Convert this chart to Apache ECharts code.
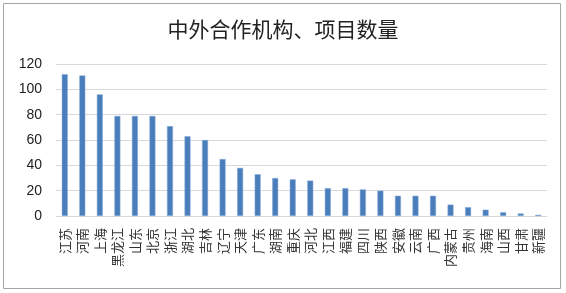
<!DOCTYPE html>
<html>
<head>
<meta charset="utf-8">
<script src="https://cdn.jsdelivr.net/npm/echarts@6/dist/echarts.min.js"></script>
<style>
html,body{margin:0;padding:0;background:#fff;}
#main{width:566px;height:293px;}
</style>
</head>
<body>
<div id="main"></div>
<script>
var provinces = ['江苏','河南','上海','黑龙江','山东','北京','浙江','湖北','吉林','辽宁','天津','广东','湖南','重庆',
    '河北','江西','福建','四川','陕西','安徽','云南','广西','内蒙古','贵州','海南','山西','甘肃','新疆'];
var counts = [112,111,96,79,79,79,71,63,60,45,38,33,30,29,28,22,22,21,20,16,16,16,9,7,5,3,2,1];
var yTicks = [0,20,40,60,80,100,120];

var chart = echarts.init(document.getElementById('main'));
chart.setOption({
    animation: false,
    textStyle: {fontFamily: 'Noto Sans CJK SC'},
    title: {
        text: '中外合作机构、项目数量',
        left: 'center',
        top: 14,
        textStyle: {fontSize: 21, fontWeight: 'normal', color: '#222', fontFamily: 'Noto Sans CJK SC'}
    },
    graphic: [{
        type: 'rect',
        shape: {x: 3.5, y: 3.5, width: 557, height: 285},
        style: {fill: 'none', stroke: '#a6a6a6', lineWidth: 1},
        silent: true
    }],
    grid: {left: 56, right: 19, top: 64, bottom: 77},
    xAxis: {
        type: 'category',
        data: provinces,
        axisLine: {lineStyle: {color: '#d9d9d9'}},
        axisTick: {show: false},
        axisLabel: {rotate: 90, interval: 0, fontSize: 13, color: '#333', margin: 12}
    },
    yAxis: {
        type: 'value',
        min: yTicks[0],
        max: yTicks[yTicks.length - 1],
        interval: 20,
        axisLine: {show: false},
        axisTick: {show: false},
        splitLine: {lineStyle: {color: '#d9d9d9'}},
        axisLabel: {fontSize: 14, color: '#222', margin: 14, fontFamily: 'Liberation Sans'}
    },
    series: [{
        type: 'bar',
        data: counts,
        barWidth: 6,
        itemStyle: {color: '#4a7ebb', borderColor: '#8eb0dc', borderWidth: 0.5}
    }]
});
</script>
</body>
</html>
